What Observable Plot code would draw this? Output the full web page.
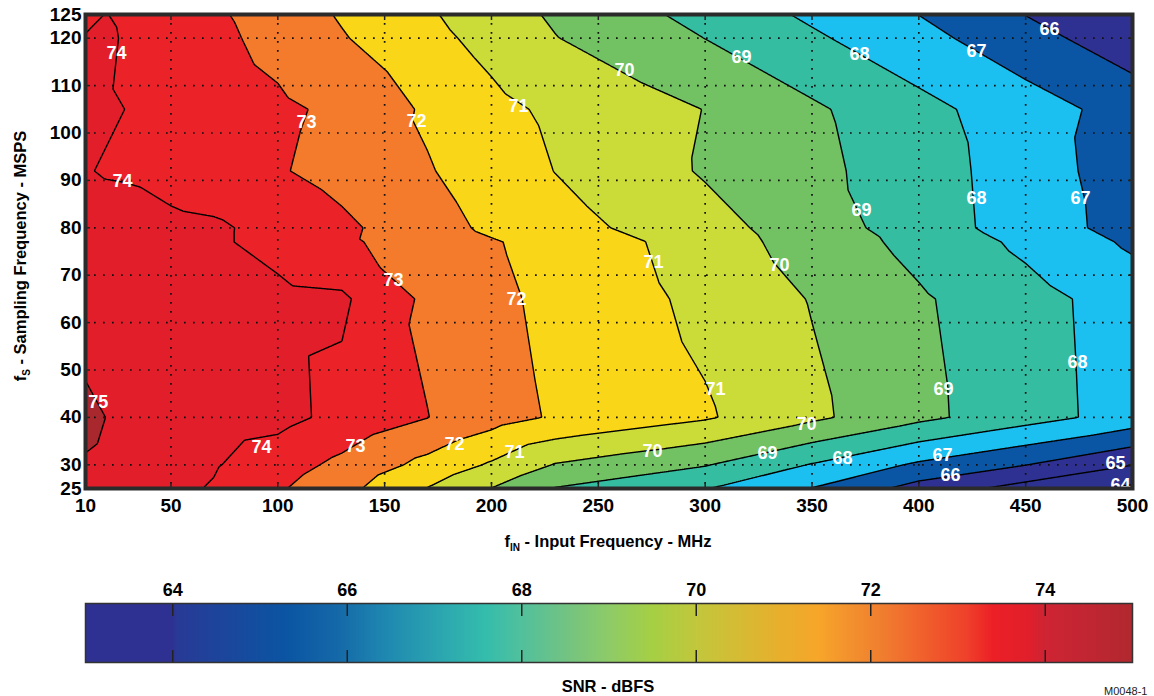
<!DOCTYPE html>
<html><head><meta charset="utf-8">
<script src="https://cdn.jsdelivr.net/npm/d3@7"></script>
<script src="https://cdn.jsdelivr.net/npm/@observablehq/plot@0.6"></script>
<style>
body{margin:0;background:#fff;font-family:"Liberation Sans",Arial,sans-serif;}
#chart svg{display:block}
</style></head><body><div id="chart"></div>
<script>
// ---- data: SNR (dBFS) on a fin x fs grid ----
const finValues = [10, 20, 30, 50, 70, 100, 130, 170, 200, 230, 270, 300, 350, 400, 450, 500];
const fsValues  = [25, 30, 40, 65, 77, 80, 92, 105, 120, 125];
const snr_fs25  = [74.70, 74.58, 74.46, 74.21, 73.93, 73.12, 72.32, 70.97, 69.98, 68.95, 68.44, 68.05, 66.97, 65.61, 64.61, 63.80];
const snr_fs30  = [74.90, 74.76, 74.63, 74.35, 74.08, 73.46, 72.76, 71.71, 70.88, 69.94, 69.44, 69.06, 67.94, 66.84, 66.02, 65.02];
const snr_fs40  = [75.30, 74.98, 74.90, 74.69, 74.50, 74.30, 73.73, 73.02, 72.40, 71.89, 71.44, 71.11, 70.20, 69.24, 68.40, 67.59];
const snr_fs65  = [74.33, 74.30, 74.27, 74.22, 74.20, 74.25, 74.15, 72.80, 72.23, 71.75, 71.20, 70.75, 69.95, 69.12, 68.35, 67.55];
const snr_fs77  = [74.50, 74.45, 74.40, 74.28, 74.15, 73.68, 73.16, 72.54, 72.08, 71.64, 71.04, 70.49, 69.58, 68.71, 67.79, 66.84];
const snr_fs80  = [74.45, 74.40, 74.35, 74.25, 74.15, 73.69, 73.20, 72.39, 71.82, 71.38, 70.79, 70.36, 69.50, 68.51, 67.55, 66.60];
const snr_fs92  = [74.05, 73.93, 73.90, 73.60, 73.39, 73.08, 72.67, 72.07, 71.53, 70.98, 70.36, 69.91, 69.25, 68.47, 67.51, 66.47];
const snr_fs105 = [74.30, 74.10, 73.98, 73.77, 73.53, 73.18, 72.80, 71.86, 71.27, 70.81, 70.34, 69.98, 69.15, 68.30, 67.45, 66.60];
const snr_fs120 = [74.05, 74.30, 73.75, 73.56, 73.24, 72.69, 72.07, 71.29, 70.68, 70.03, 69.44, 68.99, 68.15, 67.31, 66.37, 65.40];
const snr_fs125 = [73.80, 74.03, 73.65, 73.49, 73.15, 72.55, 71.91, 71.12, 70.47, 69.86, 69.19, 68.68, 67.83, 66.99, 65.98, 65.15];
const snrRows = [snr_fs25, snr_fs30, snr_fs40, snr_fs65, snr_fs77, snr_fs80, snr_fs92, snr_fs105, snr_fs120, snr_fs125];

const xTicks = [10, 50, 100, 150, 200, 250, 300, 350, 400, 450, 500];
const yTicks = [25, 30, 40, 50, 60, 70, 80, 90, 100, 110, 120, 125];

const bandThresholds = [63, 64, 65, 66, 67, 68, 69, 70, 71, 72, 73, 74, 75];
const bandColors = ["#2b2e8c", "#2d3190", "#2e3192", "#0a56a4", "#1bc0f0", "#35bda2", "#72c163", "#cbdb37", "#f9d617", "#f47b2b", "#ec2229", "#e21e2b", "#a9282e"];
const lineThresholds = [64, 65, 66, 67, 68, 69, 70, 71, 72, 73, 74, 75];

// contour labels
const labelText = ["74","74","75","74","73","73","73","72","72","72","71","71","71","71","70","70","70","70","69","69","69","69","68","68","68","68","67","67","67","66","66","65","64"];
const labelFin  = [24.5, 27.3, 16, 92.4, 113.4, 154.1, 136.4, 164.9, 211.7, 182.7, 212.6, 275.8, 304.8, 210.8, 262.3, 334.8, 347.4, 275.4, 317, 373.2, 411.6, 329.2, 372.2, 427, 474.3, 364.3, 427, 475.7, 411.1, 461.2, 414.8, 492, 494.4];
const labelFs   = [116.8, 89.8, 43.1, 33.7, 102.2, 68.9, 33.9, 102.4, 64.9, 34.3, 105.6, 72.7, 45.9, 32.6, 113.2, 72, 38.5, 32.8, 115.9, 83.7, 45.9, 32.4, 116.6, 86.2, 51.6, 31.3, 117.2, 86.2, 32, 121.8, 27.7, 30.3, 25.7];

// colour bar
const barTicks = [64, 66, 68, 70, 72, 74];
const barStops  = [63, 64, 64.05, 65.3, 65.9, 66.4, 67, 67.6, 68, 68.5, 69, 69.5, 70, 70.5, 71, 71.4, 71.8, 72.2, 72.7, 73.1, 73.4, 73.8, 74, 74.5, 75];
const barColors = ["#2e3192","#2e3192","#283a96","#0b55a3","#1569a8","#1e86b0","#2aa3b0","#35bdac","#52c09c","#72c383","#8ecb68","#a6cf44","#c2c73c","#d6bb34","#e9ae2c","#f7a62a","#f28f2e","#f07a2f","#f05a2b","#ef412b","#ec1f26","#e11f2b","#cf2433","#c02632","#b1282f"];

const table = fsValues.flatMap((fs, i) => finValues.map((fin, j) => ({fin, fs, snr: snrRows[i][j]})));

const W = 1154;
const FONT = "Liberation Sans, Arial, sans-serif";
const tickStyle = {stroke: "#222", strokeWidth: 1.5};

const main = Plot.plot({
  width: W, height: 560,
  marginLeft: 85, marginRight: 22, marginTop: 14, marginBottom: 72,
  style: {fontFamily: FONT, background: "white", color: "black"},
  x: {domain: [10, 500]},
  y: {domain: [25, 125]},
  color: {type: "ordinal", domain: bandThresholds, range: bandColors},
  marks: [
    Plot.contour(table, {x: "fin", y: "fs", fill: "snr", interpolate: "barycentric", thresholds: bandThresholds, pixelSize: 1, stroke: "none"}),
    Plot.gridX(xTicks.slice(1, -1), {stroke: "#111", strokeOpacity: 1, strokeWidth: 1.7, strokeDasharray: "1.7,7.3"}),
    Plot.gridY(yTicks.slice(1, -1), {stroke: "#111", strokeOpacity: 1, strokeWidth: 1.7, strokeDasharray: "1.7,7.3"}),
    Plot.contour(table, {x: "fin", y: "fs", value: "snr", interpolate: "barycentric", thresholds: lineThresholds, pixelSize: 1, fill: "none", stroke: "black", strokeWidth: 1.4}),
    Plot.text(labelText, {x: labelFin, y: labelFs, text: labelText, fill: "white", fontSize: 18, fontWeight: "bold", clip: true}),
    Plot.axisX(xTicks, {anchor: "bottom", tickSize: -5, tickFormat: () => "", label: null, ...tickStyle}),
    Plot.axisX(xTicks, {anchor: "top", tickSize: -5, tickFormat: () => "", label: null, ...tickStyle}),
    Plot.axisY(yTicks, {anchor: "left", tickSize: -5, tickFormat: () => "", label: null, ...tickStyle}),
    Plot.axisY(yTicks, {anchor: "right", tickSize: -5, tickFormat: () => "", label: null, ...tickStyle}),
    Plot.axisX(xTicks, {anchor: "bottom", tickSize: 0, tickPadding: 10, fontSize: 19, fontWeight: "bold", label: null}),
    Plot.axisY(yTicks, {anchor: "left", tickSize: 0, tickPadding: 4, fontSize: 19, fontWeight: "bold", label: null}),
    Plot.frame({stroke: "#2b2b2b", strokeWidth: 4})
  ]
});

const bar = Plot.plot({
  width: W, height: 136,
  marginLeft: 85, marginRight: 22, marginTop: 43, marginBottom: 34,
  style: {fontFamily: FONT, background: "white", color: "black"},
  x: {domain: [63, 75]},
  y: {domain: [0, 1], axis: null},
  color: {type: "linear", domain: barStops, range: barColors},
  marks: [
    Plot.raster({x1: 63, x2: 75, y1: 0, y2: 1, width: 1047, height: 1, fill: (x, y) => x}),
    Plot.axisX(barTicks, {anchor: "top", tickSize: 0, tickPadding: 8, fontSize: 18, fontWeight: "bold", label: null}),
    Plot.axisX(barTicks, {anchor: "top", tickSize: -12, tickFormat: () => "", label: null, ...tickStyle}),
    Plot.axisX(barTicks, {anchor: "bottom", tickSize: -12, tickFormat: () => "", label: null, ...tickStyle}),
    Plot.frame({stroke: "#333", strokeWidth: 1.5})
  ]
});

const root = document.getElementById("chart");
root.append(main, bar);

// axis titles with subscripts
const ms = d3.select(main);
const xt = ms.append("text").attr("x", 608).attr("y", 547).attr("text-anchor", "middle")
  .attr("font-family", FONT).attr("font-weight", "bold").attr("font-size", 16.5).attr("fill", "black");
xt.append("tspan").text("f");
xt.append("tspan").attr("font-size", 10).attr("dy", 4).text("IN");
xt.append("tspan").attr("dy", -4).text(" - Input Frequency - MHz");

const yt = ms.append("text").attr("transform", "translate(26,256) rotate(-90)").attr("text-anchor", "middle")
  .attr("font-family", FONT).attr("font-weight", "bold").attr("font-size", 16.5).attr("fill", "black");
yt.append("tspan").text("f");
yt.append("tspan").attr("font-size", 10).attr("dy", 4).text("S");
yt.append("tspan").attr("dy", -4).text(" - Sampling Frequency - MSPS");

const bs = d3.select(bar);
bs.append("text").attr("x", 608).attr("y", 132).attr("text-anchor", "middle")
  .attr("font-family", FONT).attr("font-weight", "bold").attr("font-size", 16.5).attr("fill", "black")
  .text("SNR - dBFS");
bs.append("text").attr("x", 1104).attr("y", 135).attr("text-anchor", "start")
  .attr("font-family", FONT).attr("font-size", 11).attr("fill", "#222")
  .text("M0048-1");
</script></body></html>
